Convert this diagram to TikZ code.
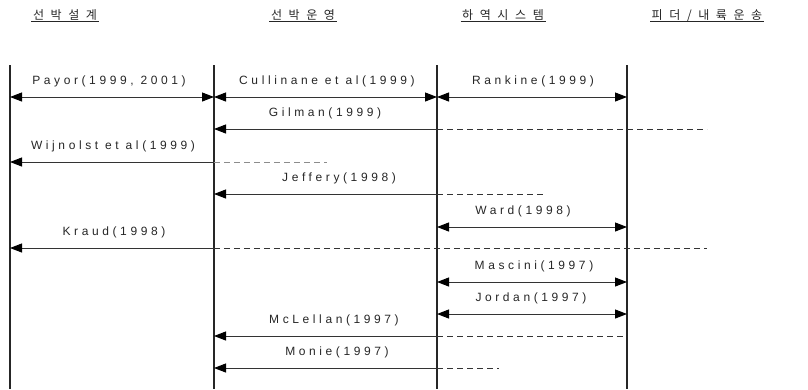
\documentclass[tikz,border=0pt]{standalone}
\usepackage{fontspec}
\setmainfont{Liberation Sans}
\newfontfamily\lblfont[LetterSpace=30]{Liberation Sans}
\newfontfamily\krfont[LetterSpace=55]{Noto Sans CJK KR}
\usetikzlibrary{arrows.meta}
\tikzset{
  vline/.style={line width=1.3pt, draw=black!85},
  arr/.style={line width=1pt, draw=black!80},
  tipL/.style={arr, {Triangle[length=12pt,width=9pt,color=black]}-},
  tipLR/.style={arr, {Triangle[length=12pt,width=9pt,color=black]}-{Triangle[length=12pt,width=9pt,color=black]}},
  dsh/.style={arr, dash pattern=on 6pt off 4pt},
  lab/.style={anchor=base, inner sep=0pt, font=\lblfont\fontsize{12}{14}\selectfont, text=black!85},
  hdr/.style={anchor=base, inner sep=1.5pt, font=\krfont\fontsize{12}{14}\selectfont, text=black!85},
}
\begin{document}
\begin{tikzpicture}[x=1pt,y=-1pt]
\useasboundingbox (0,0) rectangle (808,389);
% headers
\node[hdr] (h1) at (65,19) {선박설계};
\node[hdr] (h2) at (303,19) {선박운영};
\node[hdr] (h3) at (503,19) {하역시스템};
\node[hdr] (h4) at (707,19) {피더/내륙운송};
\foreach \h in {h1,h2,h3,h4}
  \draw[line width=0.8pt, black!85] ([yshift=-2.5pt]\h.base west) -- ([yshift=-2.5pt]\h.base east);
% vertical lines
\foreach \i/\x in {1/10,2/214,3/437,4/627}{
  \coordinate (t\i) at (\x,65);
  \coordinate (b\i) at (\x,389);
  \draw[vline] (t\i) -- (b\i);
}
% row 1
\coordinate (r1a) at (10,97); \coordinate (r1b) at (214,97);
\coordinate (r1c) at (437,97); \coordinate (r1d) at (627,97);
\draw[tipLR] (r1a) -- (r1b);
\draw[tipLR] (r1b) -- (r1c);
\draw[tipLR] (r1c) -- (r1d);
\node[lab] (payor) at (109,84) {Payor(1999, 2001)};
\node[lab] (cull) at (327,84) {Cullinane et al(1999)};
\node[lab] (rank) at (533,84) {Rankine(1999)};
% Gilman
\coordinate (g1) at (214,129); \coordinate (g2) at (437,129); \coordinate (g3) at (707,129);
\draw[tipL] (g1) -- (g2);
\draw[dsh] (g2) -- (g3);
\node[lab] (gil) at (325,116) {Gilman(1999)};
% Wijnolst
\coordinate (w1) at (10,162); \coordinate (w2) at (214,162); \coordinate (w3) at (327,162);
\draw[tipL] (w1) -- (w2);
\draw[dsh, draw=black!45] (w2) -- (w3);
\node[lab] (wij) at (113,149) {Wijnolst et al(1999)};
% Jeffery
\coordinate (j1) at (214,194); \coordinate (j2) at (437,194); \coordinate (j3) at (545,194);
\draw[tipL] (j1) -- (j2);
\draw[dsh] (j2) -- (j3);
\node[lab] (jef) at (339,181) {Jeffery(1998)};
% Ward
\coordinate (wa1) at (437,227); \coordinate (wa2) at (627,227);
\draw[tipLR] (wa1) -- (wa2);
\node[lab] (ward) at (523,214) {Ward(1998)};
% Kraud
\coordinate (k1) at (10,248); \coordinate (k2) at (214,248); \coordinate (k3) at (707,248);
\draw[tipL] (k1) -- (k2);
\draw[dsh] (k2) -- (k3);
\node[lab] (kraud) at (114,235) {Kraud(1998)};
% Mascini
\coordinate (m1) at (437,282); \coordinate (m2) at (627,282);
\draw[tipLR] (m1) -- (m2);
\node[lab] (masc) at (534,269) {Mascini(1997)};
% Jordan
\coordinate (jo1) at (437,314); \coordinate (jo2) at (627,314);
\draw[tipLR] (jo1) -- (jo2);
\node[lab] (jord) at (531,301) {Jordan(1997)};
% McLellan
\coordinate (mc1) at (214,336); \coordinate (mc2) at (437,336); \coordinate (mc3) at (627,336);
\draw[tipL] (mc1) -- (mc2);
\draw[dsh] (mc2) -- (mc3);
\node[lab] (mcl) at (334,323) {McLellan(1997)};
% Monie
\coordinate (mo1) at (214,368); \coordinate (mo2) at (437,368); \coordinate (mo3) at (499,368);
\draw[tipL] (mo1) -- (mo2);
\draw[dsh] (mo2) -- (mo3);
\node[lab] (mon) at (337,355) {Monie(1997)};
\end{tikzpicture}
\end{document}
